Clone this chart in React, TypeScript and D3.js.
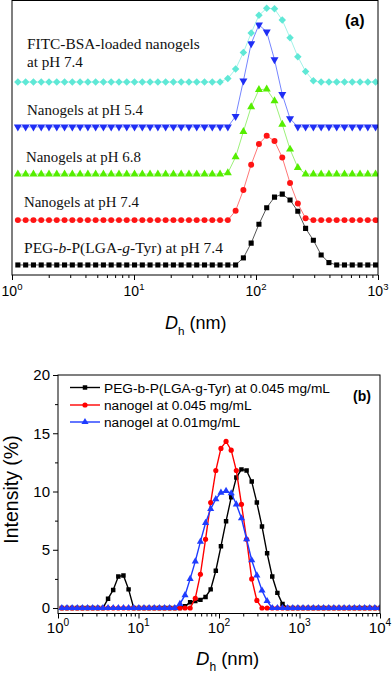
import React, { useEffect, useRef } from 'react';
import * as d3 from 'd3';

// DLS size bins (nm), shared by all traces
const sizeBins = [
  1.117, 1.294, 1.499, 1.736, 2.01, 2.328, 2.696, 3.122, 3.615, 4.187,
  4.849, 5.615, 6.503, 7.531, 8.721, 10.1, 11.7, 13.54, 15.69, 18.17,
  21.04, 24.36, 28.21, 32.67, 37.84, 43.82, 50.75, 58.77, 68.06, 78.82,
  91.28, 105.7, 122.4, 141.8, 164.2, 190.1, 220.2, 255.0, 295.3, 342.0,
  396.1, 458.7, 531.2, 615.1, 712.4, 825.0, 955.4, 1106, 1281, 1484,
  1718, 1990, 2305, 2669, 3091, 3580, 4145, 4801, 5560, 6439,
  7456, 8635, 10000,
];

// panel (a): intensity (%) on the first 47 bins, stacked traces
const pegA = [
  0, 0, 0, 0, 0, 0, 0, 0, 0, 0,
  0, 0, 0, 0, 0, 0, 0, 0, 0, 0,
  0, 0, 0, 0, 0, 0, 0, 0, 0, 1.2,
  3.7, 6.9, 9.7, 11.5, 12.0, 11.0, 9.1, 6.2, 4.2, 1.7,
  0.4, 0, 0, 0, 0, 0, 0,
];
const gel74A = [
  0, 0, 0, 0, 0, 0, 0, 0, 0, 0,
  0, 0, 0, 0, 0, 0, 0, 0, 0, 0,
  0, 0, 0, 0, 0, 0, 0, 0, 1.6, 5.1,
  9.4, 12.9, 14.3, 13.4, 10.6, 6.3, 2.8, 0.3, 0, 0,
  0, 0, 0, 0, 0, 0, 0,
];
const gel68A = [
  0, 0, 0, 0, 0, 0, 0, 0, 0, 0,
  0, 0, 0, 0, 0, 0, 0, 0, 0, 0,
  0, 0, 0, 0, 0, 0, 0, 0.2, 2.9, 7.2,
  11.4, 14.3, 14.4, 12.4, 8.4, 4.2, 1.1, 0, 0, 0,
  0, 0, 0, 0, 0, 0, 0,
];
const gel54A = [
  0, 0, 0, 0, 0, 0, 0, 0, 0, 0,
  0, 0, 0, 0, 0, 0, 0, 0, 0, 0,
  0, 0, 0, 0, 0, 0, 0, 0, 1.8, 7.8,
  14.1, 17.3, 16.1, 11.4, 5.5, 1.4, 0, 0, 0, 0,
  0, 0, 0, 0, 0, 0, 0,
];
const fitcA = [
  0, 0, 0, 0, 0, 0, 0, 0, 0, 0,
  0, 0, 0, 0, 0, 0, 0, 0, 0, 0,
  0, 0, 0, 0, 0, 0, 0, 0.6, 2.2, 5.0,
  8.3, 11.3, 12.5, 12.4, 10.5, 7.5, 4.3, 1.8, 0.2, 0,
  0, 0, 0, 0, 0, 0, 0,
];
const offsetsA = [0, 7.6, 15.4, 23.4, 31.0];

// panel (b): intensity (%) on all 63 bins
const pegB = [
  0, 0, 0, 0, 0, 0, 0, 0, 0, 0.8,
  1.55, 2.7, 2.8, 1.6, 0, 0, 0, 0, 0, 0,
  0, 0, 0, 0, 0.15, 0.5, 0.6, 0.7, 0.95, 1.6,
  3.2, 5.3, 7.45, 9.5, 11.2, 11.9, 11.8, 10.85, 9.05, 7.0,
  4.7, 2.7, 1.3, 0.35, 0, 0, 0, 0, 0, 0,
  0, 0, 0, 0, 0, 0, 0, 0, 0, 0,
  0, 0, 0,
];
const gel045B = [
  0, 0, 0, 0, 0, 0, 0, 0, 0, 0,
  0, 0, 0, 0, 0, 0, 0, 0, 0, 0,
  0, 0, 0, 0, 0, 0, 0.83, 2.9, 5.9, 9.05,
  11.8, 13.7, 14.3, 13.55, 11.8, 8.9, 5.9, 2.5, 0.65, 0,
  0, 0, 0, 0, 0, 0, 0, 0, 0, 0,
  0, 0, 0, 0, 0, 0, 0, 0, 0, 0,
  0, 0, 0,
];
const gel001B = [
  0, 0, 0, 0, 0, 0, 0, 0, 0, 0,
  0, 0, 0, 0, 0, 0, 0, 0, 0, 0,
  0, 0, 0, 0.35, 1.1, 2.5, 4.0, 5.7, 7.3, 8.5,
  9.35, 9.9, 10.05, 9.85, 8.9, 7.7, 5.9, 4.1, 2.8, 1.5,
  0.6, 0, 0, 0, 0, 0, 0, 0, 0, 0,
  0, 0, 0, 0, 0, 0, 0, 0, 0, 0,
  0, 0, 0,
];

const xTicksA = [1, 10, 100, 1000];
const xTicksB = [1, 10, 100, 1000, 10000];
const yTicksB = [0, 5, 10, 15, 20];
const legendB = [
  'PEG-b-P(LGA-g-Tyr) at 0.045 mg/mL',
  'nanogel at 0.045 mg/mL',
  'nanogel at 0.01mg/mL',
];

const SERIF = "'Liberation Serif', 'Times New Roman', serif";
const SANS = "'Liberation Sans', Arial, sans-serif";

const symbolTypes = {
  square: d3.symbolSquare,
  circle: d3.symbolCircle,
  triangle: d3.symbolTriangle,
  triangleDown: d3.symbolTriangle,
  diamond: d3.symbolSquare,
};
const rotation = (shape) => (shape === 'triangleDown' ? 180 : shape === 'diamond' ? 45 : 0);

// log x axis: major + minor ticks going outward, labels 10^n
function logAxis(g, x, y0, majors, font, labelDy) {
  const [lo, hi] = x.domain();
  const minors = [];
  for (let d = Math.log10(lo); d < Math.log10(hi); d++) {
    for (let k = 2; k <= 9; k++) minors.push(k * Math.pow(10, d));
  }
  const major = g
    .append('g')
    .attr('transform', `translate(0, ${y0})`)
    .call(d3.axisBottom(x).tickValues(majors).tickSize(5).tickSizeOuter(0).tickFormat(() => ''));
  const minor = g
    .append('g')
    .attr('transform', `translate(0, ${y0})`)
    .call(d3.axisBottom(x).tickValues(minors).tickSize(3).tickSizeOuter(0).tickFormat(() => ''));
  [major, minor].forEach((a) => {
    a.select('.domain').remove();
    a.selectAll('line').attr('stroke', '#000');
  });

  majors.forEach((v) => {
    const t = g
      .append('text')
      .attr('x', x(v))
      .attr('y', y0 + labelDy)
      .attr('text-anchor', 'middle')
      .style('font-family', SANS)
      .style('font-size', `${font}px`);
    t.append('tspan').text('10');
    t.append('tspan')
      .attr('dy', -font * 0.45)
      .style('font-size', `${font * 0.68}px`)
      .text(String(Math.round(Math.log10(v))));
  });
}

function xLabel(g, x, y, size) {
  const t = g.append('text').attr('x', x).attr('y', y).style('font-family', SANS).style('font-size', `${size}px`);
  t.append('tspan').style('font-style', 'italic').text('D');
  t.append('tspan').attr('dy', size * 0.35).style('font-size', `${size * 0.65}px`).text('h');
  t.append('tspan').attr('dy', -size * 0.35).text(' (nm)');
}

const App = () => {
  const ref = useRef(null);

  useEffect(() => {
    const svg = d3.select(ref.current);
    svg.selectAll('*').remove();

    // ---------- panel (a) ----------
    const boxA = { left: 12, right: 378, top: 0.5, bottom: 275 };
    const xA = d3.scaleLog().domain([1, 1000]).range([boxA.left, boxA.right]);
    const yA = d3.scaleLinear().domain([-1.7, 44.9]).range([boxA.bottom, 0]);

    svg
      .append('clipPath')
      .attr('id', 'clipA')
      .append('rect')
      .attr('x', boxA.left)
      .attr('y', boxA.top)
      .attr('width', boxA.right - boxA.left)
      .attr('height', boxA.bottom - boxA.top);

    const seriesA = [
      { values: pegA, marker: '#000', line: '#555', shape: 'square', size: 26 },
      { values: gel74A, marker: '#ff1414', line: '#ff7777', shape: 'circle', size: 28 },
      { values: gel68A, marker: '#55ee00', line: '#9cf07a', shape: 'triangle', size: 28 },
      { values: gel54A, marker: '#1f2ef5', line: '#7585ff', shape: 'triangleDown', size: 28 },
      { values: fitcA, marker: '#5fe8d6', line: '#a2f2e8', shape: 'diamond', size: 28 },
    ];

    const gA = svg.append('g').attr('clip-path', 'url(#clipA)');
    seriesA.forEach((s, i) => {
      const pts = s.values.map((v, j) => ({ size: sizeBins[j], v: v + offsetsA[i] }));
      gA.append('path')
        .datum(pts)
        .attr('fill', 'none')
        .attr('stroke', s.line)
        .attr('stroke-width', 1)
        .attr('d', d3.line().x((d) => xA(d.size)).y((d) => yA(d.v)));
      gA.selectAll(null)
        .data(pts)
        .enter()
        .append('path')
        .attr('d', d3.symbol().type(symbolTypes[s.shape]).size(s.size)())
        .attr('transform', (d) => `translate(${xA(d.size)},${yA(d.v)}) rotate(${rotation(s.shape)})`)
        .attr('fill', s.marker);
    });

    svg
      .append('rect')
      .attr('x', boxA.left)
      .attr('y', boxA.top)
      .attr('width', boxA.right - boxA.left)
      .attr('height', boxA.bottom - boxA.top)
      .attr('fill', 'none')
      .attr('stroke', '#000')
      .attr('stroke-width', 1);

    logAxis(svg.append('g'), xA, boxA.bottom, xTicksA, 14, 21);
    xLabel(svg, 165, 329, 18);

    // trace labels (serif), each fitted to the width it has in the figure
    const labA = [
      { x: 27, y: 49, w: 173, parts: [['FITC-BSA-loaded nanogels', false]] },
      { x: 27, y: 67, w: 56, parts: [['at pH 7.4', false]] },
      { x: 27, y: 115, w: 116, parts: [['Nanogels at pH 5.4', false]] },
      { x: 26, y: 162, w: 115, parts: [['Nanogels at pH 6.8', false]] },
      { x: 24, y: 207, w: 115, parts: [['Nanogels at pH 7.4', false]] },
      {
        x: 24,
        y: 253,
        w: 199,
        parts: [
          ['PEG-', false], ['b', true], ['-P(LGA-', false], ['g', true], ['-Tyr) at pH 7.4', false],
        ],
      },
    ];
    labA.forEach((l) => {
      const t = svg
        .append('text')
        .attr('x', l.x)
        .attr('y', l.y)
        .style('font-family', SERIF)
        .style('font-size', '15px')
        .attr('fill', '#111');
      l.parts.forEach(([s, it]) => t.append('tspan').style('font-style', it ? 'italic' : 'normal').text(s));
      const len = t.node().getComputedTextLength();
      if (len > 0) t.style('font-size', `${Math.min(16, (15 * l.w) / len)}px`);
    });

    svg
      .append('text')
      .attr('x', 345)
      .attr('y', 26)
      .style('font-family', SANS)
      .style('font-weight', 'bold')
      .style('font-size', '16px')
      .text('(a)');

    // ---------- panel (b) ----------
    const boxB = { left: 58, right: 380, top: 375, bottom: 613.5 };
    const xB = d3.scaleLog().domain([1, 10000]).range([boxB.left, boxB.right]);
    const yB = d3.scaleLinear().domain([-0.47, 20]).range([boxB.bottom, boxB.top]);

    svg
      .append('clipPath')
      .attr('id', 'clipB')
      .append('rect')
      .attr('x', boxB.left)
      .attr('y', boxB.top)
      .attr('width', boxB.right - boxB.left)
      .attr('height', boxB.bottom - boxB.top);

    const seriesB = [
      { values: pegB, color: '#000', shape: 'square', size: 20 },
      { values: gel045B, color: '#ff0000', shape: 'circle', size: 21 },
      { values: gel001B, color: '#1f3cff', shape: 'triangle', size: 22 },
    ];

    const gB = svg.append('g').attr('clip-path', 'url(#clipB)');
    seriesB.forEach((s) => {
      const pts = s.values.map((v, j) => ({ size: sizeBins[j], v }));
      gB.append('path')
        .datum(pts)
        .attr('fill', 'none')
        .attr('stroke', s.color)
        .attr('stroke-width', 1.4)
        .attr('d', d3.line().x((d) => xB(d.size)).y((d) => yB(d.v)));
      gB.selectAll(null)
        .data(pts)
        .enter()
        .append('path')
        .attr('d', d3.symbol().type(symbolTypes[s.shape]).size(s.size)())
        .attr('transform', (d) => `translate(${xB(d.size)},${yB(d.v)})`)
        .attr('fill', s.color);
    });

    svg
      .append('rect')
      .attr('x', boxB.left)
      .attr('y', boxB.top)
      .attr('width', boxB.right - boxB.left)
      .attr('height', boxB.bottom - boxB.top)
      .attr('fill', 'none')
      .attr('stroke', '#000')
      .attr('stroke-width', 1);

    logAxis(svg.append('g'), xB, boxB.bottom, xTicksB, 15, 19);
    xLabel(svg, 196, 665, 18.5);

    // y axis
    const yMajor = svg
      .append('g')
      .attr('transform', `translate(${boxB.left}, 0)`)
      .call(d3.axisLeft(yB).tickValues(yTicksB).tickSize(5).tickPadding(3).tickSizeOuter(0));
    yMajor.select('.domain').remove();
    yMajor.selectAll('text').style('font-family', SANS).style('font-size', '15px').attr('fill', '#000');
    const yMinor = svg
      .append('g')
      .attr('transform', `translate(${boxB.left}, 0)`)
      .call(d3.axisLeft(yB).tickValues([2.5, 7.5, 12.5, 17.5]).tickSize(3).tickFormat(() => '').tickSizeOuter(0));
    yMinor.select('.domain').remove();

    svg
      .append('text')
      .attr('transform', 'translate(18, 489.5) rotate(-90)')
      .attr('text-anchor', 'middle')
      .style('font-family', SANS)
      .style('font-size', '19.5px')
      .text('Intensity (%)');

    // legend
    const legY = [387.5, 405, 422];
    seriesB.forEach((s, i) => {
      const lg = svg.append('g').attr('transform', `translate(0, ${legY[i]})`);
      lg.append('line').attr('x1', 70).attr('x2', 100).attr('stroke', s.color).attr('stroke-width', 1.4);
      lg.append('path')
        .attr('d', d3.symbol().type(symbolTypes[s.shape]).size(s.size)())
        .attr('transform', 'translate(85, 0)')
        .attr('fill', s.color);
      lg.append('text')
        .attr('x', 104)
        .attr('y', 5)
        .style('font-family', SANS)
        .style('font-size', '13.7px')
        .text(legendB[i]);
    });

    svg
      .append('text')
      .attr('x', 353)
      .attr('y', 401)
      .style('font-family', SANS)
      .style('font-weight', 'bold')
      .style('font-size', '14px')
      .text('(b)');
  }, []);

  return (
    <svg
      ref={ref}
      width={392}
      height={674}
      style={{ position: 'absolute', left: 0, top: 0, background: '#fff' }}
    />
  );
};

export default App;
